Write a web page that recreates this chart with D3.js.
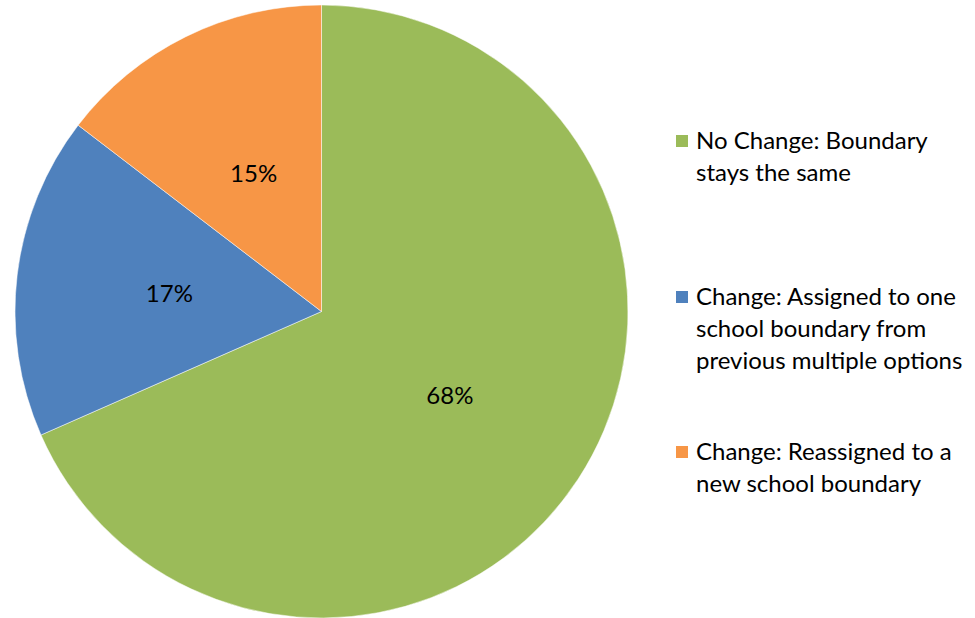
<!DOCTYPE html>
<html>
<head>
<meta charset="utf-8">
<script src="https://cdn.jsdelivr.net/npm/d3@7"></script>
<style>
  body { margin: 0; background: #fff; }
  text { font-family: Lato, "Open Sans", sans-serif; fill: #000; }
</style>
</head>
<body>
<div id="chart"></div>
<script>
// slice data, clockwise from 12 o'clock (shares)
var categories = ["No Change: Boundary stays the same",
                  "Change: Assigned to one school boundary from previous multiple options",
                  "Change: Reassigned to a new school boundary"];
var values = [68.4, 17.0, 14.6];
var labels = ["68%", "17%", "15%"];
var legendLines = [
    ["No Change: Boundary", "stays the same"],
    ["Change: Assigned to one", "school boundary from", "previous multiple options"],
    ["Change: Reassigned to a", "new school boundary"]
];
var colors = ["#9bbb59", "#4f81bd", "#f79646"];

var width = 975, height = 618;
var cx = 321.5, cy = 311.5, radius = 306.5;

var svg = d3.select("#chart")
    .append("svg")
        .attr("width", width)
        .attr("height", height);

var pie = d3.pie()
    .sort(null)
    .value(function(d) { return d; });

var arc = d3.arc()
    .innerRadius(0)
    .outerRadius(radius);

var labelArc = d3.arc()
    .innerRadius(radius * 0.5)
    .outerRadius(radius * 0.5);

var arcs = pie(values);

var g = svg.append("g")
    .attr("transform", "translate(" + cx + "," + cy + ")");

g.selectAll("path")
    .data(arcs)
    .enter().append("path")
        .attr("d", arc)
        .attr("fill", function(d, i) { return colors[i]; })
        .attr("stroke", "#fff")
        .attr("stroke-width", 0.5);

g.selectAll(".slice-label")
    .data(arcs)
    .enter().append("text")
        .attr("class", "slice-label")
        .attr("transform", function(d) { return "translate(" + labelArc.centroid(d) + ")"; })
        .attr("text-anchor", "middle")
        .attr("dy", "0.35em")
        .style("font-size", "24px")
        .text(function(d, i) { return labels[i]; });

// legend
var legendTop = [141, 297, 452];
var lineH = 32;

var legend = svg.append("g");

legend.selectAll("rect")
    .data(categories)
    .enter().append("rect")
        .attr("x", 676)
        .attr("y", function(d, i) { return legendTop[i] - 6; })
        .attr("width", 12)
        .attr("height", 12)
        .attr("fill", function(d, i) { return colors[i]; });

legend.selectAll("text")
    .data(legendLines)
    .enter().append("text")
        .attr("x", 696)
        .attr("y", function(d, i) { return legendTop[i]; })
        .style("font-size", "24px")
        .selectAll("tspan")
        .data(function(d) { return d; })
        .enter().append("tspan")
            .attr("x", 696)
            .attr("dy", function(d, j) { return j == 0 ? "0.35em" : lineH; })
            .text(function(d) { return d; });
</script>
</body>
</html>
